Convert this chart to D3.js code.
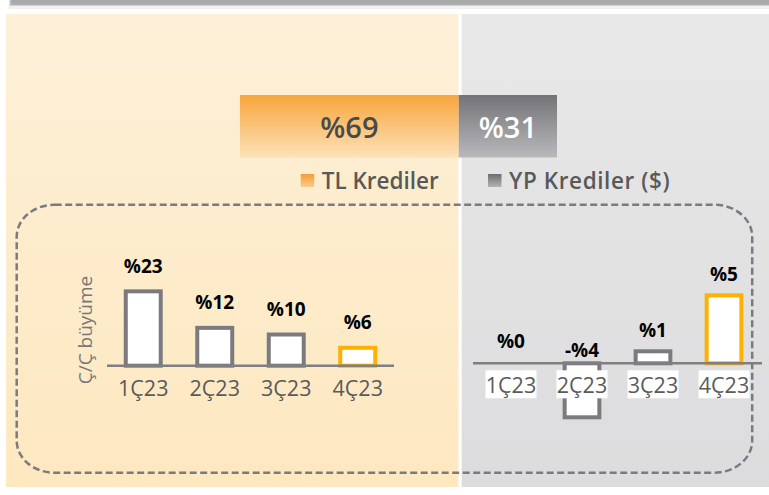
<!DOCTYPE html>
<html>
<head>
<meta charset="utf-8">
<script src="https://cdn.jsdelivr.net/npm/d3@7"></script>
<style>
  html, body { margin: 0; padding: 0; background: #ffffff; }
  svg { display: block; }
  text { font-family: "Open Sans", "Noto Sans", sans-serif; }
</style>
</head>
<body>
<svg id="chart" width="769" height="495"></svg>
<script>
// ---- data ----
const shareCategories = ["TL Krediler", "YP Krediler ($)"];
const shareValues = [69, 31];
const quarters = ["1Ç23", "2Ç23", "3Ç23", "4Ç23"];
const tlGrowth = [23, 12, 10, 6];
const ypGrowth = [0, -4, 1, 5];
const highlightQuarter = "4Ç23";
const axisTitle = "Ç/Ç büyüme";

const fmt = v => (v < 0 ? "-%" + Math.abs(v) : "%" + v);

const svg = d3.select("#chart");
const defs = svg.append("defs");

function vGrad(id, c1, c2) {
  const g = defs.append("linearGradient").attr("id", id)
    .attr("x1", 0).attr("y1", 0).attr("x2", 0).attr("y2", 1);
  g.append("stop").attr("offset", "0%").attr("stop-color", c1);
  g.append("stop").attr("offset", "100%").attr("stop-color", c2);
}
vGrad("gLeftPanel", "#fdf0d8", "#fde8c0");
vGrad("gRightPanel", "#e8e8e8", "#dcdcde");
vGrad("gOrange", "#f8a53b", "#fde2b8");
vGrad("gGray", "#747478", "#b9b9bc");
vGrad("gOrangeSq", "#f59c35", "#fbcb8c");
vGrad("gGraySq", "#6c6c70", "#b3b3b6");

// ---- top strip ----
svg.append("rect").attr("x", 10).attr("y", -2).attr("width", 762).attr("height", 7.5)
  .attr("fill", "#a9a9ab").attr("stroke", "#cfcfcf").attr("stroke-width", 1.5);
svg.append("line").attr("x1", 8).attr("x2", 769).attr("y1", 8).attr("y2", 8)
  .attr("stroke", "#e2e2e2").attr("stroke-width", 1);

// ---- panels ----
svg.append("rect").attr("x", 6).attr("y", 14).attr("width", 452.5).attr("height", 473)
  .attr("fill", "url(#gLeftPanel)");
svg.append("rect").attr("x", 461.7).attr("y", 14).attr("width", 308).attr("height", 473)
  .attr("fill", "url(#gRightPanel)");

// ---- share stacked bar ----
const xs = d3.scaleLinear().domain([0, d3.sum(shareValues)]).range([240, 557]);
let acc = 0;
const shareData = shareValues.map((v, i) => { const d = { v, i, x0: acc, x1: acc + v }; acc += v; return d; });
const barY = 95, barH = 62.5;
svg.selectAll(".share").data(shareData).join("rect")
  .attr("x", d => xs(d.x0)).attr("y", barY)
  .attr("width", d => xs(d.x1) - xs(d.x0)).attr("height", barH)
  .attr("fill", d => d.i === 0 ? "url(#gOrange)" : "url(#gGray)");
svg.selectAll(".shareLbl").data(shareData).join("text")
  .attr("x", d => (xs(d.x0) + xs(d.x1)) / 2).attr("y", 138)
  .attr("text-anchor", "middle").attr("font-size", 29).attr("font-weight", 600)
  .attr("fill", d => d.i === 0 ? "#4a4a4a" : "#ffffff")
  .text(d => "%" + d.v);

// ---- legend ----
const legendX = [300.7, 488];
shareCategories.forEach((c, i) => {
  svg.append("rect").attr("x", legendX[i]).attr("y", 174).attr("width", 13.5).attr("height", 13)
    .attr("fill", i === 0 ? "url(#gOrangeSq)" : "url(#gGraySq)");
  svg.append("text").attr("x", legendX[i] + 21).attr("y", 188.5)
    .attr("font-size", 22.5).attr("font-weight", 600).attr("fill", "#595959")
    .attr("letter-spacing", i === 1 ? 0.6 : 0)
    .text(c);
});

// ---- dashed frame ----
svg.append("rect").attr("x", 16.7).attr("y", 204.7).attr("width", 735.5).attr("height", 268)
  .attr("rx", 38).attr("ry", 32)
  .attr("fill", "none").attr("stroke", "#7b7b7f").attr("stroke-width", 2.5)
  .attr("stroke-dasharray", "7,3.5");

// ---- growth charts ----
const sw = 4;
function growthChart(values, xRange, y0, pxPerPct, labelOff, whiteBoxes, lineRange) {
  const x = d3.scaleBand().domain(quarters).range(xRange).paddingInner(0.455).paddingOuter(0.2275);
  const y = d3.scaleLinear().domain([0, 5]).range([y0, y0 - 5 * pxPerPct]);
  const data = quarters.map((q, i) => ({ q, v: values[i] }));
  const g = svg.append("g");
  const bw = x.bandwidth() - sw;

  g.selectAll("rect.bar").data(data.filter(d => d.v !== 0)).join("rect")
    .attr("class", "bar")
    .attr("x", d => x(d.q) + sw / 2)
    .attr("y", d => d.v > 0 ? y(d.v) + sw / 2 : y(0))
    .attr("width", bw)
    .attr("height", d => Math.abs(y(d.v) - y(0)) - sw / 2)
    .attr("fill", "#ffffff")
    .attr("stroke", d => d.q === highlightQuarter ? "#ffb000" : "#7b7b7f")
    .attr("stroke-width", sw);

  g.append("line").attr("x1", lineRange[0]).attr("x2", lineRange[1])
    .attr("y1", y(0)).attr("y2", y(0))
    .attr("stroke", "#7f7f83").attr("stroke-width", 2.5);

  g.selectAll("text.val").data(data).join("text")
    .attr("class", "val")
    .attr("x", d => x(d.q) + x.bandwidth() / 2)
    .attr("y", d => d.v > 0 ? y(d.v) - labelOff : (d.v < 0 ? y(0) - 6 : y(0) - 15))
    .attr("text-anchor", "middle").attr("font-size", 19).attr("font-weight", 700)
    .attr("fill", "#000000")
    .text(d => fmt(d.v));

  if (whiteBoxes) {
    g.selectAll("rect.box").data(data).join("rect")
      .attr("class", "box")
      .attr("x", d => x(d.q) + x.bandwidth() / 2 - 25.5).attr("y", y(0) + 7)
      .attr("width", 51).attr("height", 28).attr("fill", "#ffffff");
  }
  g.selectAll("text.cat").data(data).join("text")
    .attr("class", "cat")
    .attr("x", d => x(d.q) + x.bandwidth() / 2)
    .attr("y", y(0) + 30)
    .attr("text-anchor", "middle").attr("font-size", 21.5).attr("fill", "#5a5a5a")
    .text(d => d.q);
  return { x, y };
}

growthChart(tlGrowth, [107.5, 393.5], 365.7, 3.32, 16.5, false, [107, 394]);
growthChart(ypGrowth, [475.5, 759.5], 363.3, 14, 12, true, [473, 762]);

// ---- y-axis title ----
svg.append("text")
  .attr("transform", "translate(91.5,330) rotate(-90)")
  .attr("text-anchor", "middle").attr("font-size", 19).attr("fill", "#777777")
  .text(axisTitle);
</script>
</body>
</html>
